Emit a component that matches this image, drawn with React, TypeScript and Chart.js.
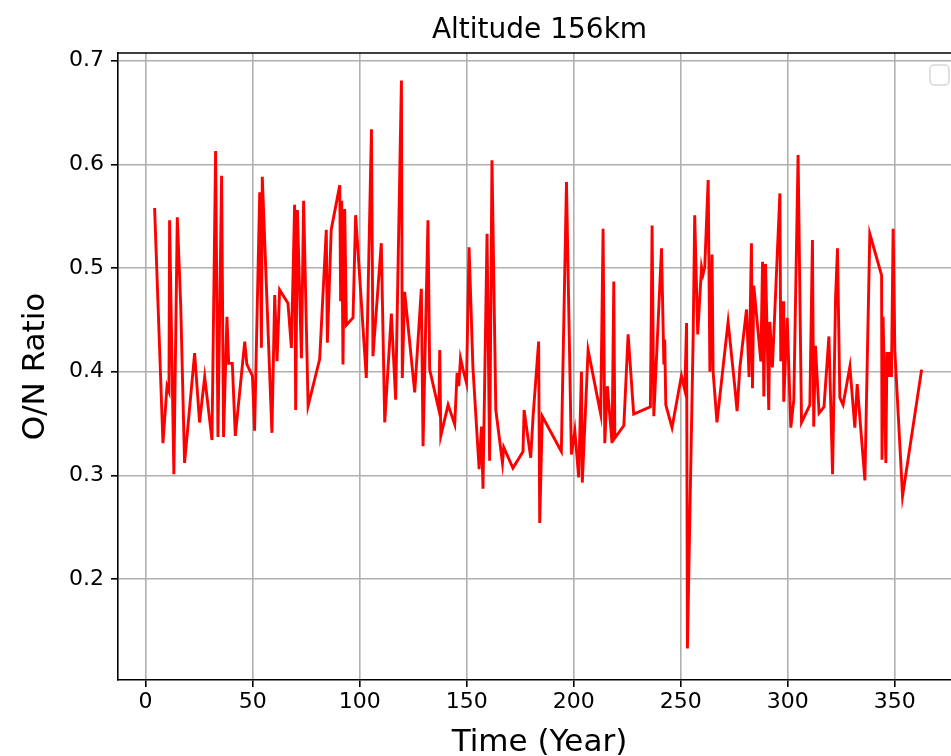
import React, { useEffect, useRef } from "react";
import { Chart, registerables } from "chart.js";

Chart.register(...registerables);

const TITLE = "Altitude 156km";
const X_LABEL = "Time (Year)";
const Y_LABEL = "O/N Ratio";

const DAYS = [
  4.2, 8.1, 10.0, 10.9, 11.2, 13.2, 14.8, 16.4, 18.2, 22.9,
  25.2, 27.6, 31.0, 32.7, 33.8, 35.5, 36.4, 38.0, 38.8, 40.5,
  41.9, 46.3, 47.3, 49.9, 50.9, 53.3, 54.1, 54.5, 59.0, 60.3,
  61.4, 62.6, 66.5, 68.1, 69.6, 70.1, 70.9, 72.8, 73.8, 75.9,
  81.3, 84.4, 84.9, 86.7, 90.7, 91.1, 91.6, 92.2, 93.0, 93.8,
  96.9, 98.1, 103.1, 105.5, 106.2, 110.1, 111.7, 114.8, 116.8, 119.5,
  119.9, 121.0, 125.7, 128.8, 129.6, 131.9, 132.7, 137.0, 137.4, 137.9,
  141.3, 144.4, 145.5, 146.3, 147.1, 148.3, 149.9, 151.1, 152.9, 155.8,
  156.9, 157.6, 159.5, 160.7, 161.8, 163.6, 166.7, 167.3, 171.6, 176.3,
  176.8, 179.9, 181.0, 183.6, 184.1, 185.3, 194.2, 196.6, 198.9, 200.5,
  202.3, 203.6, 204.0, 206.7, 212.6, 213.7, 214.5, 215.7, 217.9, 218.7,
  219.2, 223.4, 225.4, 228.0, 235.8, 236.6, 237.4, 241.0, 242.1, 242.5,
  243.0, 245.9, 250.3, 251.9, 252.7, 253.1, 255.8, 256.5, 257.9, 259.7,
  260.4, 261.2, 262.8, 263.6, 264.6, 265.1, 266.9, 272.1, 275.2, 276.3,
  277.6, 280.7, 281.9, 283.0, 283.5, 284.1, 287.4, 288.2, 288.8, 289.6,
  291.1, 291.6, 292.8, 296.3, 296.7, 297.8, 298.1, 299.7, 301.4, 302.8,
  304.8, 306.4, 310.3, 311.5, 312.1, 312.9, 314.6, 316.9, 319.2, 320.9,
  322.3, 323.2, 324.3, 325.8, 329.0, 331.3, 332.4, 336.0, 338.3, 343.8,
  344.0, 344.5, 345.8, 346.3, 347.0, 347.7, 348.4, 349.2, 350.0, 353.6,
  362.5,
];

const RATIO = [
  0.558, 0.331, 0.386, 0.381, 0.546, 0.301, 0.549, 0.464, 0.312, 0.418,
  0.351, 0.395, 0.334, 0.613, 0.337, 0.589, 0.337, 0.453, 0.408, 0.408,
  0.338, 0.429, 0.407, 0.396, 0.343, 0.573, 0.423, 0.588, 0.341, 0.474,
  0.410, 0.479, 0.466, 0.423, 0.561, 0.363, 0.556, 0.413, 0.565, 0.367,
  0.412, 0.537, 0.428, 0.537, 0.580, 0.468, 0.565, 0.407, 0.557, 0.445,
  0.452, 0.551, 0.394, 0.634, 0.415, 0.524, 0.351, 0.456, 0.373, 0.681,
  0.394, 0.477, 0.380, 0.480, 0.328, 0.546, 0.402, 0.363, 0.421, 0.338,
  0.368, 0.349, 0.399, 0.386, 0.413, 0.402, 0.389, 0.520, 0.404, 0.306,
  0.347, 0.287, 0.533, 0.314, 0.604, 0.363, 0.312, 0.327, 0.307, 0.323,
  0.363, 0.317, 0.357, 0.429, 0.254, 0.357, 0.323, 0.583, 0.320, 0.343,
  0.298, 0.400, 0.293, 0.421, 0.359, 0.538, 0.331, 0.386, 0.331, 0.487,
  0.336, 0.348, 0.436, 0.359, 0.366, 0.541, 0.357, 0.519, 0.407, 0.431,
  0.368, 0.346, 0.396, 0.382, 0.447, 0.133, 0.436, 0.551, 0.436, 0.501,
  0.494, 0.501, 0.585, 0.400, 0.513, 0.400, 0.351, 0.448, 0.386, 0.362,
  0.404, 0.460, 0.395, 0.524, 0.384, 0.483, 0.410, 0.506, 0.376, 0.504,
  0.363, 0.448, 0.404, 0.572, 0.410, 0.468, 0.371, 0.452, 0.346, 0.373,
  0.609, 0.351, 0.368, 0.527, 0.347, 0.425, 0.360, 0.366, 0.434, 0.301,
  0.471, 0.519, 0.375, 0.368, 0.405, 0.346, 0.388, 0.295, 0.533, 0.493,
  0.315, 0.453, 0.312, 0.419, 0.395, 0.419, 0.395, 0.538, 0.420, 0.280,
  0.402,
];

const X_MIN = -12.9;
const X_MAX = 380.9;
const Y_MIN = 0.1025;
const Y_MAX = 0.7075;

const FONT = "'DejaVu Sans', sans-serif";

const decorPlugin = {
  id: "decor",
  afterDraw(chart: any) {
    const { ctx, chartArea } = chart;
    ctx.save();
    // top spine
    ctx.strokeStyle = "#000";
    ctx.lineWidth = 1.6;
    ctx.beginPath();
    ctx.moveTo(chartArea.left - 0.8, chartArea.top);
    ctx.lineTo(chartArea.right, chartArea.top);
    ctx.stroke();
    // title
    ctx.fillStyle = "#000";
    ctx.font = `28px ${FONT}`;
    ctx.textAlign = "center";
    ctx.textBaseline = "alphabetic";
    ctx.fillText(TITLE, (chartArea.left + chartArea.right) / 2, chartArea.top - 15);
    // empty legend box
    const x = 930, y = 65, w = 19, h = 20, r = 4;
    ctx.beginPath();
    ctx.moveTo(x + r, y);
    ctx.arcTo(x + w, y, x + w, y + h, r);
    ctx.arcTo(x + w, y + h, x, y + h, r);
    ctx.arcTo(x, y + h, x, y, r);
    ctx.arcTo(x, y, x + w, y, r);
    ctx.closePath();
    ctx.fillStyle = "rgba(255,255,255,0.8)";
    ctx.fill();
    ctx.strokeStyle = "#d6d6d6";
    ctx.lineWidth = 1.5;
    ctx.stroke();
    ctx.restore();
  },
};

export default function App() {
  const ref = useRef<HTMLCanvasElement>(null);

  useEffect(() => {
    if (!ref.current) return;
    const points = DAYS.map((d, i) => ({ x: d, y: RATIO[i] }));
    const chart = new Chart(ref.current, {
      type: "line",
      data: {
        datasets: [
          {
            data: points,
            borderColor: "#ff0000",
            backgroundColor: "#ff0000",
            borderWidth: 2.9,
            pointRadius: 0,
            tension: 0,
            fill: false,
          },
        ],
      },
      options: {
        animation: false,
        responsive: false,
        maintainAspectRatio: false,
        layout: { padding: { left: 0, right: 39, top: 53, bottom: 0 } },
        plugins: {
          legend: { display: false },
          title: { display: false },
          tooltip: { enabled: false },
        },
        scales: {
          x: {
            type: "linear",
            min: X_MIN,
            max: X_MAX,
            afterFit: (s: any) => {
              s.height = 76;
            },
            ticks: {
              stepSize: 50,
              includeBounds: false,
              color: "#000",
              font: { family: FONT, size: 22 },
              padding: 2,
              maxRotation: 0,
            },
            grid: {
              color: "#b0b0b0",
              lineWidth: 1.6,
              tickColor: "#000",
              tickLength: 7,
            },
            border: { color: "#000", width: 1.6 },
            title: {
              display: true,
              text: X_LABEL,
              color: "#000",
              font: { family: FONT, size: 31, lineHeight: 0.84 },
              padding: { top: 0, bottom: 0 },
            },
          },
          y: {
            type: "linear",
            min: Y_MIN,
            max: Y_MAX,
            afterFit: (s: any) => {
              s.width = 118;
            },
            ticks: {
              stepSize: 0.1,
              includeBounds: false,
              color: "#000",
              font: { family: FONT, size: 22 },
              padding: 7,
              callback: (v: any) => Number(v).toFixed(1),
            },
            grid: {
              color: "#b0b0b0",
              lineWidth: 1.6,
              tickColor: "#000",
              tickLength: 7,
            },
            border: { color: "#000", width: 1.6 },
            title: {
              display: true,
              text: Y_LABEL,
              color: "#000",
              font: { family: FONT, size: 31 },
              padding: { top: 17, bottom: 0 },
            },
          },
        },
      },
      plugins: [decorPlugin],
    });
    return () => chart.destroy();
  }, []);

  return (
    <div
      style={{
        position: "fixed",
        left: 0,
        top: 0,
        width: 951,
        height: 756,
        overflow: "hidden",
        background: "#fff",
      }}
    >
      <canvas ref={ref} width={1000} height={756} style={{ width: 1000, height: 756, display: "block" }} />
    </div>
  );
}
